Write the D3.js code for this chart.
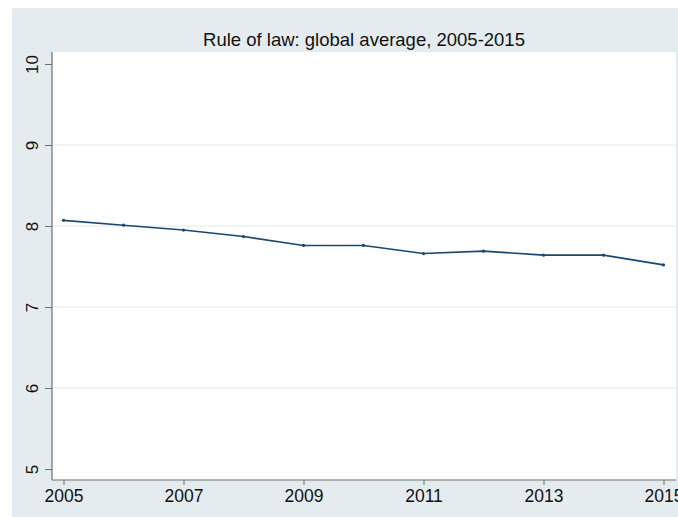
<!DOCTYPE html>
<html>
<head>
<meta charset="utf-8">
<script src="https://cdn.jsdelivr.net/npm/d3@7"></script>
<style>
  body { margin: 0; background: #fff; }
  svg { display: block; font-family: "Liberation Sans", Arial, Helvetica, sans-serif; }
</style>
</head>
<body>
<div id="chart"></div>
<script>
const years = [2005, 2006, 2007, 2008, 2009, 2010, 2011, 2012, 2013, 2014, 2015];
const ruleOfLaw = [8.07, 8.01, 7.95, 7.87, 7.76, 7.76, 7.66, 7.69, 7.64, 7.64, 7.52];
const yTicks = [5, 6, 7, 8, 9, 10];
const xTicks = [2005, 2007, 2009, 2011, 2013, 2015];
const title = "Rule of law: global average, 2005-2015";

const width = 678, height = 517;
const colors = { panel: "#e5ecef", plot: "#ffffff", grid: "#eaf1f2", line: "#1a476f", axis: "#6e6e6e", text: "#111" };

const svg = d3.select("#chart").append("svg")
  .attr("width", width)
  .attr("height", height);

// outer graph region
svg.append("rect")
  .attr("x", 12).attr("y", 8)
  .attr("width", width - 12).attr("height", height - 8)
  .attr("fill", colors.panel);

const plot = { left: 52, right: 676, top: 52, bottom: 480 };

svg.append("rect")
  .attr("x", plot.left).attr("y", plot.top)
  .attr("width", plot.right - plot.left).attr("height", plot.bottom - plot.top)
  .attr("fill", colors.plot);

const x = d3.scaleLinear().domain([2005, 2015]).range([63.5, 663.5]);
const y = d3.scaleLinear().domain([5, 10]).range([469, 64]);

// gridlines
svg.append("g")
  .selectAll("line")
  .data(yTicks.filter(d => d > 5 && d < 10))
  .join("line")
  .attr("x1", plot.left + 1).attr("x2", plot.right)
  .attr("y1", d => y(d)).attr("y2", d => y(d))
  .attr("stroke", colors.grid)
  .attr("stroke-width", 1.5);

// title
svg.append("text")
  .attr("x", (plot.left + plot.right) / 2)
  .attr("y", 46)
  .attr("text-anchor", "middle")
  .style("font-size", "18.5px")
  .attr("fill", colors.text)
  .text(title);

// y axis
const yAxis = svg.append("g")
  .attr("transform", `translate(${plot.left},0)`)
  .call(d3.axisLeft(y).tickValues(yTicks).tickFormat(d3.format("d")).tickSize(7).tickPadding(7).tickSizeOuter(0));
yAxis.select(".domain").attr("d", `M0,${plot.top}V${plot.bottom}`);
yAxis.selectAll("line").attr("stroke", colors.axis);
yAxis.select(".domain").attr("stroke", colors.axis).attr("stroke-width", 1.2);
yAxis.selectAll("text")
  .style("font-size", "17px")
  .attr("fill", colors.text)
  .attr("x", null).attr("dy", null)
  .attr("text-anchor", "middle")
  .attr("transform", "translate(-14,0) rotate(-90)");

// x axis
const xAxis = svg.append("g")
  .attr("transform", `translate(0,${plot.bottom})`)
  .call(d3.axisBottom(x).tickValues(xTicks).tickFormat(d3.format("d")).tickSize(5).tickPadding(5).tickSizeOuter(0));
xAxis.select(".domain").attr("d", `M${plot.left},0H${plot.right}`)
  .attr("stroke", colors.axis).attr("stroke-width", 1.2);
xAxis.selectAll("line").attr("stroke", colors.axis);
xAxis.selectAll("text")
  .style("font-size", "17.5px")
  .attr("fill", colors.text);

// series
const data = years.map((yr, i) => ({ year: yr, value: ruleOfLaw[i] }));

svg.append("path")
  .datum(data)
  .attr("fill", "none")
  .attr("stroke", colors.line)
  .attr("stroke-width", 1.6)
  .attr("d", d3.line().x(d => x(d.year)).y(d => y(d.value)));

svg.append("g")
  .selectAll("circle")
  .data(data)
  .join("circle")
  .attr("cx", d => x(d.year))
  .attr("cy", d => y(d.value))
  .attr("r", 1.6)
  .attr("fill", colors.line);
</script>
</body>
</html>
